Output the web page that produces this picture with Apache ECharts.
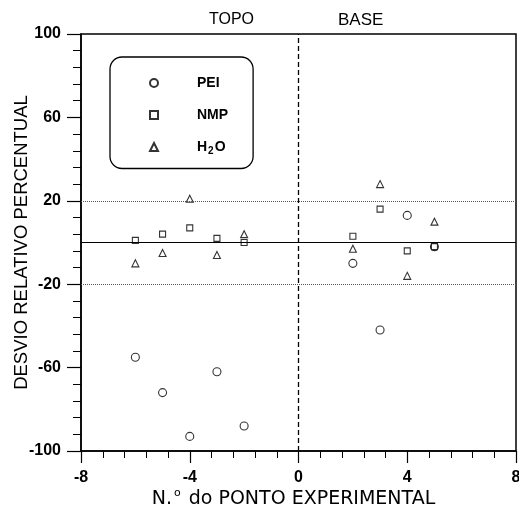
<!DOCTYPE html>
<html>
<head>
<meta charset="utf-8">
<script src="https://cdn.jsdelivr.net/npm/echarts@6/dist/echarts.min.js"></script>
<style>
  html, body { margin: 0; padding: 0; background: #fff; }
  #chart { width: 519px; height: 505px; }
</style>
</head>
<body>
<div id="chart"></div>
<script>
// pontos experimentais (eixo x) e desvios relativos (%)
const pontos = [-6, -5, -4, -3, -2, 2, 3, 4, 5];
const pei = [-55, -72, -93, -62, -88, -10, -42, 13, -2];
const nmp = [1, 4, 7, 2, 0, 3, 16, -4, -2];
const h2o = [-10, -5, 21, -6, 4, -3, 28, -16, 10];

const faixa = [-20, 20];   // linhas pontilhadas
const fonte = 'Liberation Sans, Arial, sans-serif';
const fonteLarga = 'DejaVu Sans, sans-serif';

const pares = (ys) => pontos.map((x, i) => [x, ys[i]]);

const chart = echarts.init(document.getElementById('chart'));

const estiloSimbolo = { color: '#fff', borderColor: '#000', borderWidth: 1.1 };

const option = {
  backgroundColor: '#fff',
  animation: false,
  grid: {
    left: 81, right: 3, top: 34, bottom: 54,
    containLabel: false, outerBoundsMode: 'none',
    show: true, borderColor: '#000', borderWidth: 1.5
  },
  legend: {
    orient: 'vertical',
    left: 110, top: 57,
    padding: [19, 25, 12, 39],
    itemWidth: 8, itemHeight: 8, itemGap: 18,
    borderColor: '#000', borderWidth: 1.3, borderRadius: 12,
    data: ['PEI', 'NMP', 'H2O'],
    formatter: (name) => name === 'H2O' ? '{b|H}{s|2}{b|O}' : name,
    textStyle: {
      fontFamily: fonte, fontSize: 14, fontWeight: 'bold', color: '#000',
      padding: [0, 0, 0, 34],
      rich: {
        b: { fontFamily: fonte, fontSize: 14, fontWeight: 'bold', color: '#000' },
        s: { fontFamily: fonte, fontSize: 10, fontWeight: 'bold', color: '#000', padding: [9, 1, 0, 1] }
      }
    }
  },
  graphic: [
    { type: 'text', left: 209, top: 12, style: { text: 'TOPO', font: '16px ' + fonte, fill: '#000' } },
    { type: 'text', left: 338, top: 12, style: { text: 'BASE', font: '17px ' + fonte, fill: '#000' } }
  ],
  xAxis: {
    type: 'value',
    min: -8, max: 8, interval: 4,
    name: 'N.{sup|o} do PONTO EXPERIMENTAL',
    nameLocation: 'middle',
    nameGap: 37,
    nameMoveOverlap: false,
    nameTextStyle: {
      fontFamily: fonteLarga, fontSize: 19, color: '#000', padding: [0, 10, 0, 0],
      rich: { sup: { fontFamily: fonteLarga, fontSize: 11, color: '#000', padding: [0, 2, 12, 2] } }
    },
    axisLine: { show: true, onZero: false, lineStyle: { color: '#000', width: 1.5 } },
    axisTick: { show: true, length: 12, lineStyle: { color: '#000', width: 1.2 } },
    minorTick: { show: true, splitNumber: 5, length: 7, lineStyle: { color: '#000', width: 1 } },
    axisLabel: { margin: 19, fontFamily: fonte, fontSize: 16, fontWeight: 'bold', color: '#000' },
    splitLine: { show: false }
  },
  yAxis: {
    type: 'value',
    min: -100, max: 100, interval: 40,
    name: 'DESVIO RELATIVO PERCENTUAL',
    nameLocation: 'middle',
    nameGap: 50,
    nameMoveOverlap: false,
    nameTextStyle: { fontFamily: fonte, fontSize: 18.5, color: '#000' },
    axisLine: { show: true, onZero: false, lineStyle: { color: '#000', width: 1.5 } },
    axisTick: { show: true, length: 14, lineStyle: { color: '#000', width: 1.2 } },
    minorTick: { show: true, splitNumber: 5, length: 8, lineStyle: { color: '#000', width: 1 } },
    axisLabel: { margin: 20, fontFamily: fonte, fontSize: 16, fontWeight: 'bold', color: '#000' },
    splitLine: { show: false }
  },
  series: [
    {
      name: 'PEI', type: 'scatter', symbol: 'circle', symbolSize: 8,
      itemStyle: estiloSimbolo, data: pares(pei), z: 3,
      markLine: {
        silent: true, symbol: 'none', label: { show: false },
        data: [
          { yAxis: 0, lineStyle: { type: 'solid', color: '#000', width: 1.2 } },
          { yAxis: faixa[0], lineStyle: { type: 'dotted', color: '#555', width: 1 } },
          { yAxis: faixa[1], lineStyle: { type: 'dotted', color: '#555', width: 1 } },
          { xAxis: 0, lineStyle: { type: [5, 3], color: '#000', width: 1.3 } }
        ]
      }
    },
    {
      name: 'NMP', type: 'scatter', symbol: 'rect', symbolSize: 6,
      itemStyle: estiloSimbolo, data: pares(nmp), z: 3
    },
    {
      name: 'H2O', type: 'scatter', symbol: 'triangle', symbolSize: 7,
      itemStyle: estiloSimbolo, data: pares(h2o), z: 3
    }
  ]
};

chart.setOption(option);
</script>
</body>
</html>
